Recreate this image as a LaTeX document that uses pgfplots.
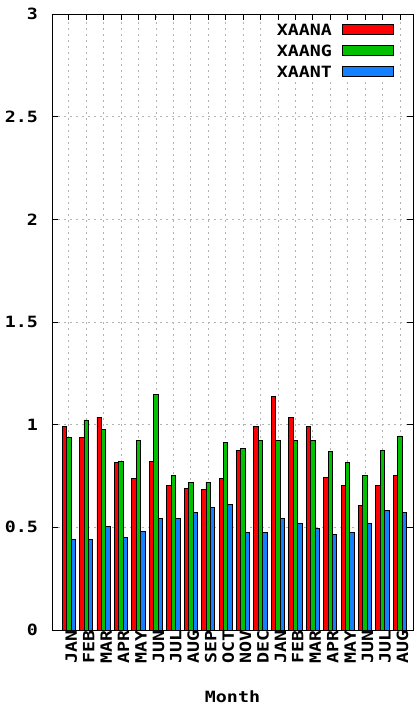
\documentclass[border=0pt]{standalone}
\usepackage{pgfplots}
\pgfplotsset{compat=1.18}
\usepackage{fontspec}
\newfontfamily\gpf{DejaVu Sans Mono}[FakeStretch=1.18]
\newcommand{\gp}{\gpf\bfseries\fontsize{15.5}{15.5}\selectfont}
\definecolor{gpred}{RGB}{255,0,0}
\definecolor{gpgreen}{RGB}{0,192,0}
\definecolor{gpblue}{RGB}{20,128,255}
\pgfplotsset{lgbox/.style={legend image code/.code={\draw[##1] (0pt,-5pt) rectangle (51pt,5pt);}}}
\pgfplotstableread{
x  A      G      T
0  0.990  0.937  0.442
1  0.937  1.023  0.442
2  1.037  0.976  0.506
3  0.815  0.821  0.452
4  0.737  0.922  0.481
5  0.821  1.146  0.543
6  0.706  0.751  0.543
7  0.691  0.720  0.574
8  0.683  0.720  0.598
9  0.737  0.915  0.613
10 0.875  0.883  0.473
11 0.990  0.922  0.473
12 1.138  0.922  0.543
13 1.037  0.922  0.520
14 0.990  0.922  0.496
15 0.745  0.868  0.467
16 0.706  0.815  0.473
17 0.605  0.751  0.520
18 0.706  0.875  0.582
19 0.751  0.945  0.574
}\datatable
\begin{document}
\begin{tikzpicture}
\begin{axis}[
  name=ax,
  at={(0,0)}, anchor=south west,
  scale only axis,
  width=361pt, height=616pt,
  xmin=-0.96, xmax=19.75,
  ymin=0, ymax=3,
  ybar=0pt, bar width=4.4pt,
  xtick={0,...,19},
  xticklabels={JAN,FEB,MAR,APR,MAY,JUN,JUL,AUG,SEP,OCT,NOV,DEC,JAN,FEB,MAR,APR,MAY,JUN,JUL,AUG},
  ytick={0,0.5,1,1.5,2,2.5,3},
  yticklabels={0,0.5,1,1.5,2,2.5,3},
  xticklabel style={font=\gp, rotate=90, anchor=mid east, inner sep=0pt, yshift=-6pt},
  yticklabel style={font=\gp, anchor=east, inner sep=0pt, xshift=-14pt},
  tick align=inside,
  major tick length=6pt,
  tick style={black, line width=0.8pt},
  axis line style={black, line width=0.9pt},
  grid=major,
  major grid style={gray!60, line width=0.7pt, dash pattern=on 2pt off 4pt},
  xlabel={Month},
  xlabel style={font=\gp, at={(axis description cs:0.5,0)}, anchor=center, yshift=-67pt},
  legend plot pos=right,
  legend cell align=left,
  legend style={font=\gp, draw=none, fill=white, at={(1,1)}, anchor=north east,
    xshift=-16pt, yshift=-7pt, row sep=8pt, column sep=9pt,
    nodes={inner sep=1pt, text height=11pt, text depth=0pt}},
]
\addplot[fill=gpred, draw=black, line width=0.8pt, lgbox] table[x=x, y=A] {\datatable};
\addlegendentry{XAANA}
\addplot[fill=gpgreen, draw=black, line width=0.8pt, lgbox] table[x=x, y=G] {\datatable};
\addlegendentry{XAANG}
\addplot[fill=gpblue, draw=black, line width=0.8pt, lgbox] table[x=x, y=T] {\datatable};
\addlegendentry{XAANT}
\end{axis}
\pgfresetboundingbox
\useasboundingbox (-52pt,-78pt) rectangle (362pt,630pt);
\end{tikzpicture}
\end{document}
